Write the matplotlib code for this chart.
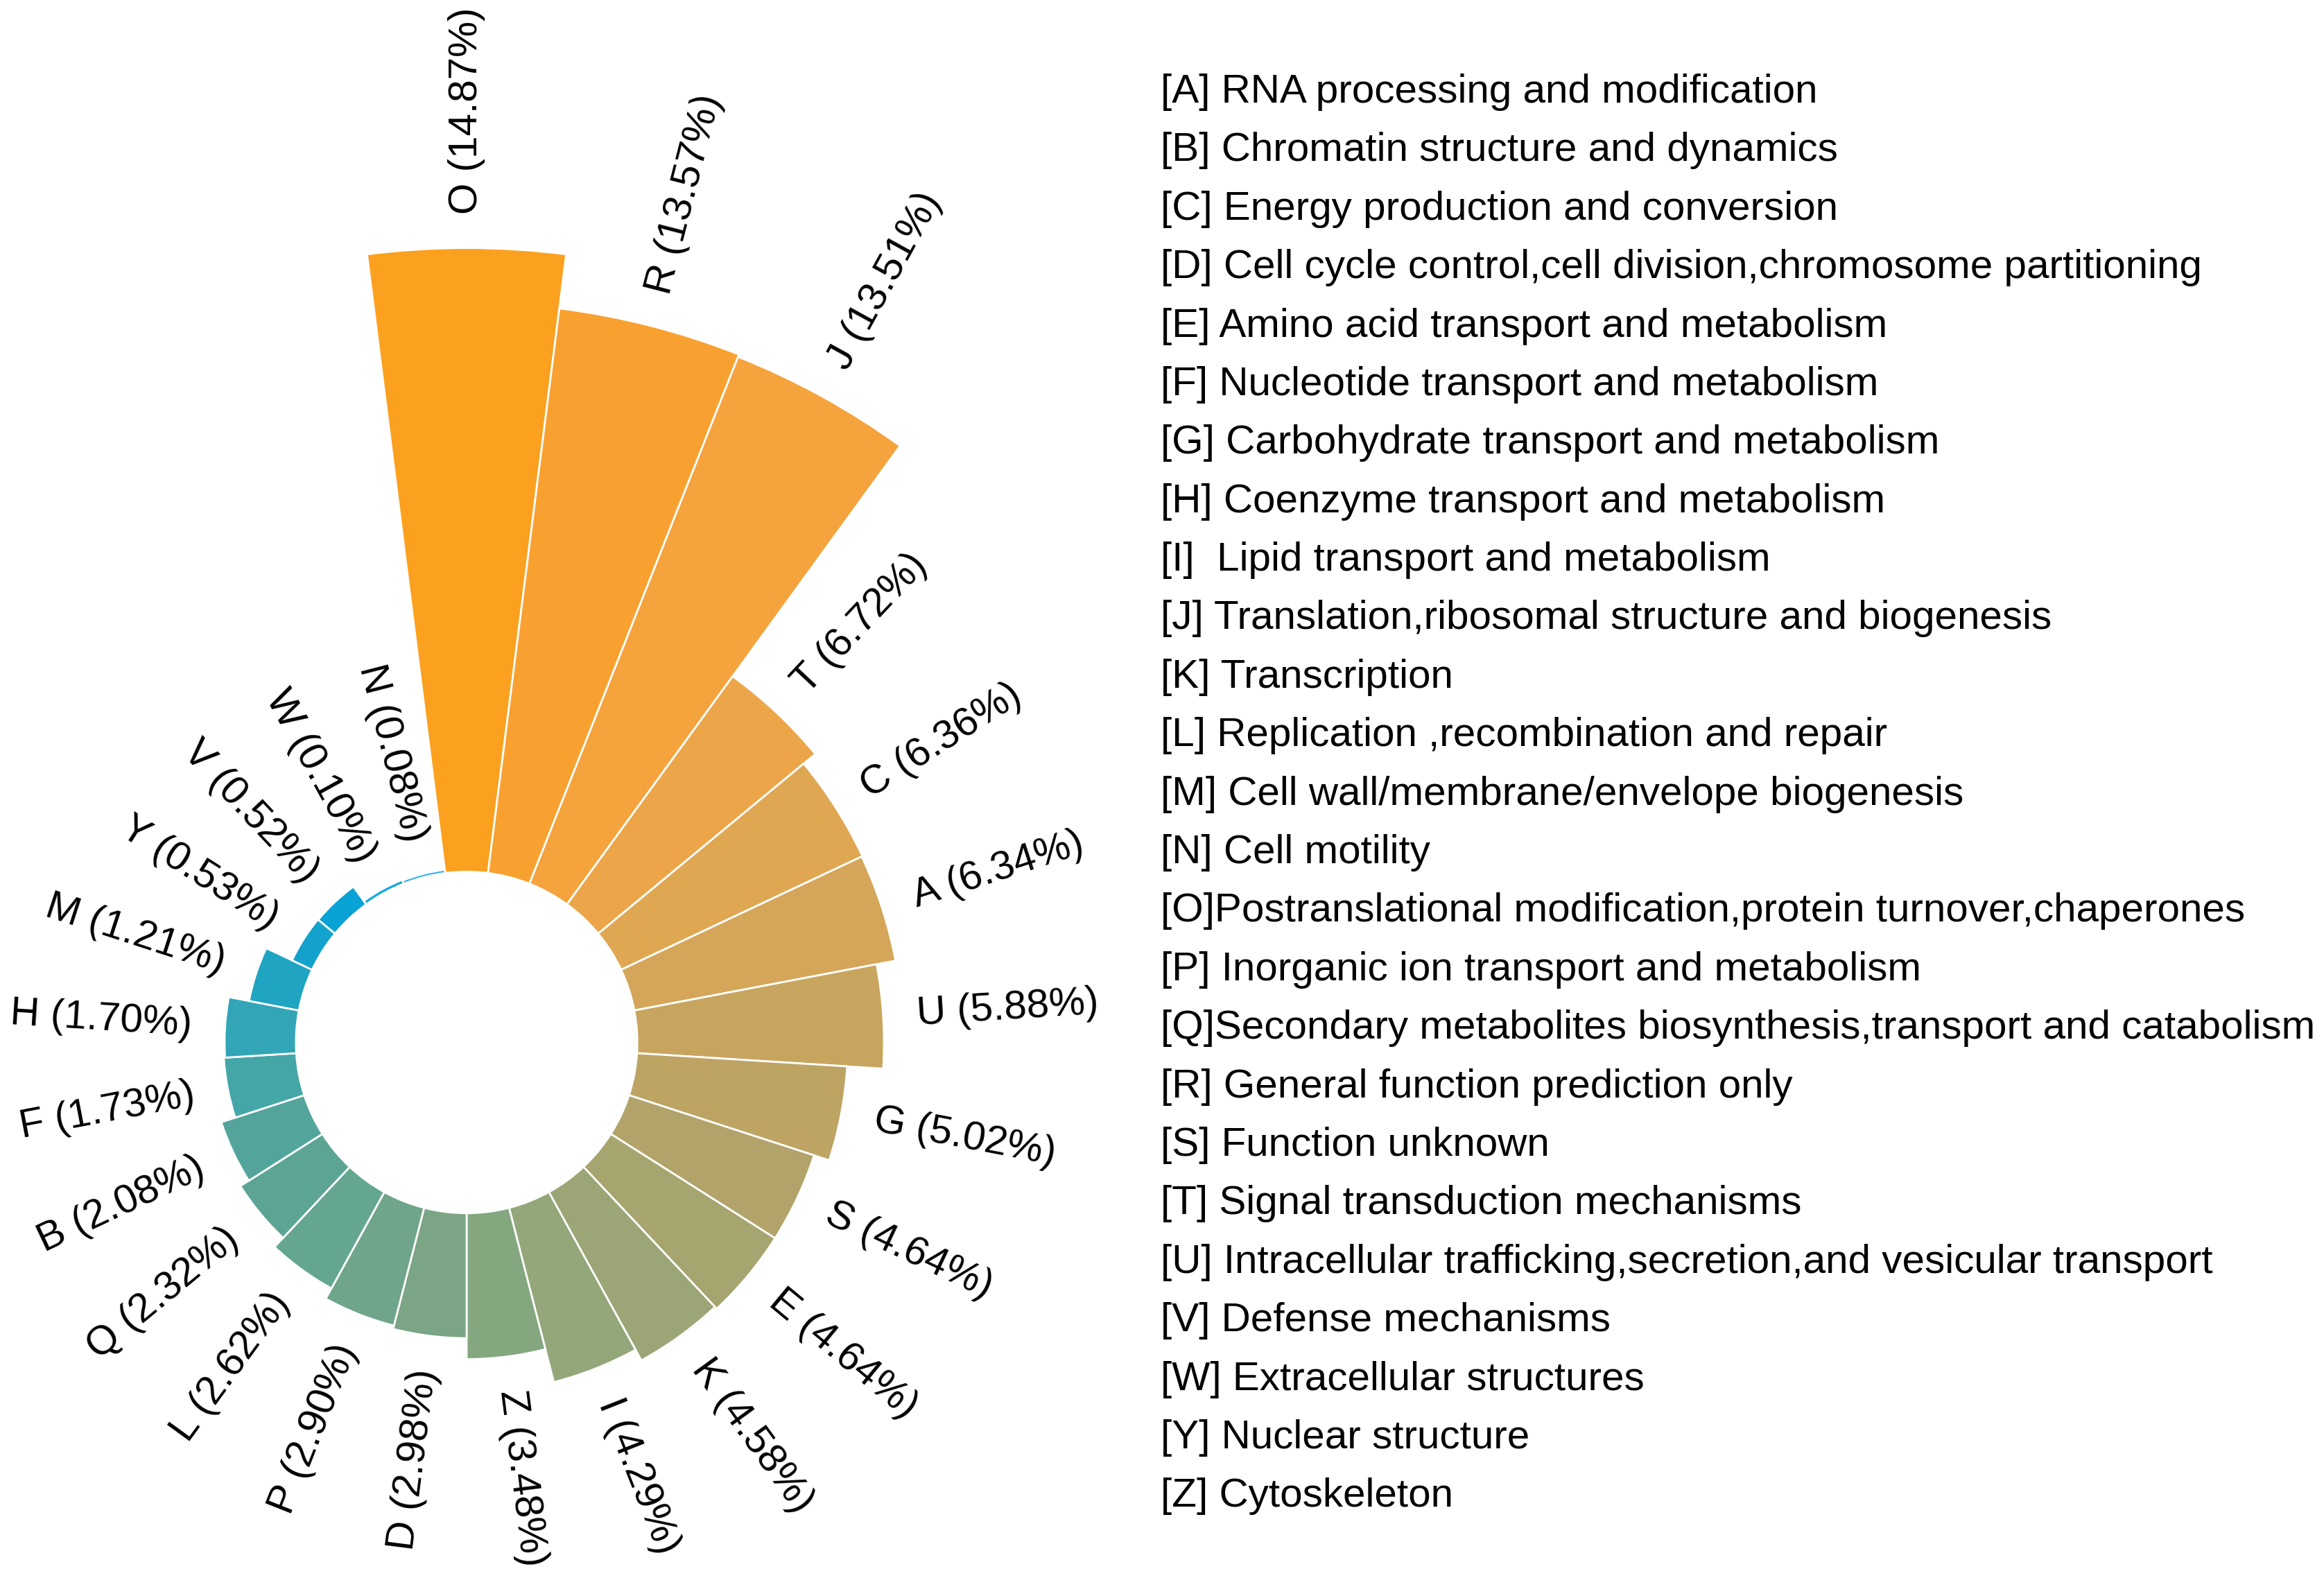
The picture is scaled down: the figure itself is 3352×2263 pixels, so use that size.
import matplotlib.pyplot as plt
import numpy as np

plt.rcParams['font.family'] = ['Liberation Sans', 'DejaVu Sans']

# COG categories, clockwise from the top
cats = ['O', 'R', 'J', 'T', 'C', 'A', 'U', 'G', 'S', 'E', 'K', 'I', 'Z',
        'D', 'P', 'L', 'Q', 'B', 'F', 'H', 'M', 'Y', 'V', 'W', 'N']
pct = [14.87, 13.57, 13.51, 6.72, 6.36, 6.34, 5.88, 5.02, 4.64, 4.64, 4.58, 4.29, 3.48,
       2.98, 2.90, 2.62, 2.32, 2.08, 1.73, 1.70, 1.21, 0.53, 0.52, 0.10, 0.08]
colors = ['#FBA11F', '#F9A130', '#F5A33C', '#ECA649', '#E0A753', '#D5A659', '#C8A55F',
          '#BDA463', '#B2A36A', '#A7A56F', '#9CA575', '#93A77A', '#84A780', '#7BA584',
          '#6FA58A', '#65A690', '#5CA595', '#53A59C', '#45A6A8', '#32A5B6', '#1FA4C2',
          '#12A2CB', '#09A2D4', '#12A8E0', '#2AB0E8']

legend_lines = [
    '[A] RNA processing and modification',
    '[B] Chromatin structure and dynamics',
    '[C] Energy production and conversion',
    '[D] Cell cycle control,cell division,chromosome partitioning',
    '[E] Amino acid transport and metabolism',
    '[F] Nucleotide transport and metabolism',
    '[G] Carbohydrate transport and metabolism',
    '[H] Coenzyme transport and metabolism',
    '[I]  Lipid transport and metabolism',
    '[J] Translation,ribosomal structure and biogenesis',
    '[K] Transcription',
    '[L] Replication ,recombination and repair',
    '[M] Cell wall/membrane/envelope biogenesis',
    '[N] Cell motility',
    '[O]Postranslational modification,protein turnover,chaperones',
    '[P] Inorganic ion transport and metabolism',
    '[Q]Secondary metabolites biosynthesis,transport and catabolism',
    '[R] General function prediction only',
    '[S] Function unknown',
    '[T] Signal transduction mechanisms',
    '[U] Intracellular trafficking,secretion,and vesicular transport',
    '[V] Defense mechanisms',
    '[W] Extracellular structures',
    '[Y] Nuclear structure',
    '[Z] Cytoskeleton',
]

inner = 4.07
fs = 42

fig = plt.figure(figsize=(33.52, 22.63), dpi=100)
ax = fig.add_axes([-0.1602, -0.1991, 0.72196, 1.06938], projection='polar')
ax.set_theta_zero_location('N')
ax.set_theta_direction(-1)
ax.set_ylim(0, 20)
ax.axis('off')

n = len(cats)
width = 2 * np.pi / n
theta = np.arange(n) * width
ax.bar(theta, pct, width=width, bottom=inner, color=colors,
       edgecolor='white', linewidth=2)

for th, c, v in zip(theta, cats, pct):
    deg = np.degrees(th)
    if deg <= 180:
        rot, ha = 90 - deg, 'left'
    else:
        rot, ha = 270 - deg, 'right'
    ax.text(th, inner + v + 0.8, f'{c} ({v:.2f}%)', rotation=rot,
            rotation_mode='anchor', ha=ha, va='center', fontsize=fs)

y0 = 0.9346
step = 0.03729
for i, line in enumerate(legend_lines):
    fig.text(0.4995, y0 - i * step, line, fontsize=fs, ha='left', va='baseline')

fig.savefig('out.png', dpi=100, facecolor='white')
